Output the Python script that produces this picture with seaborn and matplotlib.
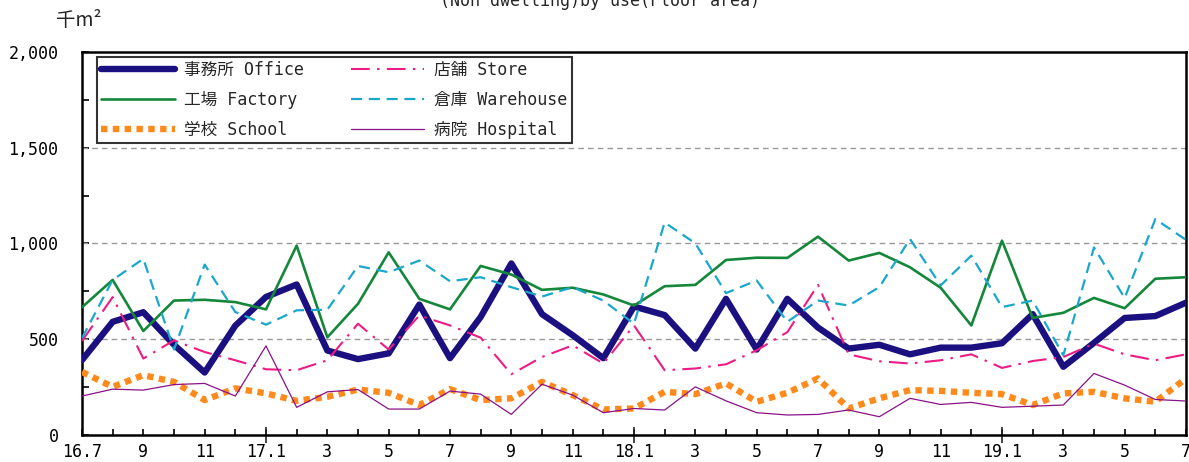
import matplotlib
matplotlib.use("Agg")
import matplotlib.pyplot as plt
import seaborn as sns
import numpy as np
import pandas as pd
from matplotlib.ticker import FixedLocator, NullFormatter

months = ["16.7", "8", "9", "10", "11", "12", "17.1", "2", "3", "4", "5", "6",
          "7", "8", "9", "10", "11", "12", "18.1", "2", "3", "4", "5", "6",
          "7", "8", "9", "10", "11", "12", "19.1", "2", "3", "4", "5", "6", "7"]

office = [390, 590, 640, 470, 325, 570, 720, 785, 440, 395, 425, 680,
          400, 615, 895, 630, 520, 400, 670, 625, 450, 710, 445, 710,
          560, 450, 470, 420, 455, 455, 478, 630, 355, 480, 610, 620, 690]
factory = [666, 809, 542, 701, 705, 693, 655, 988, 509, 684, 953, 710,
           655, 882, 837, 757, 768, 733, 675, 776, 783, 913, 925, 924,
           1035, 910, 950, 875, 768, 571, 1014, 610, 637, 715, 661, 815, 823]
school = [328, 250, 311, 276, 181, 242, 216, 177, 198, 236, 219, 155,
          238, 181, 190, 276, 207, 132, 137, 224, 212, 268, 172, 219,
          294, 137, 190, 233, 229, 219, 212, 155, 216, 224, 190, 172, 294]
store = [490, 719, 398, 493, 432, 389, 342, 337, 389, 580, 445, 623,
         571, 507, 316, 406, 467, 372, 571, 337, 346, 368, 441, 536,
         783, 420, 384, 372, 389, 420, 349, 385, 406, 476, 420, 389, 420]
warehouse = [505, 809, 919, 445, 889, 641, 575, 650, 653, 882, 849, 910,
             802, 823, 771, 722, 771, 701, 580, 1109, 1000, 740, 806, 590,
             701, 675, 771, 1023, 780, 936, 667, 701, 415, 979, 714, 1127, 1018]
hospital = [202, 238, 233, 262, 268, 202, 464, 143, 224, 236, 134, 134,
            228, 212, 106, 264, 207, 115, 137, 129, 250, 177, 115, 103,
            106, 129, 94, 190, 158, 169, 143, 149, 155, 320, 259, 184, 176]

series_names = ["事務所 Office", "工場 Factory", "学校 School",
                "店舗 Store", "倉庫 Warehouse", "病院 Hospital"]
y_ticks = [0, 500, 1000, 1500, 2000]
y_tick_labels = ["0", "500", "1,000", "1,500", "2,000"]

sns.set_theme(style="white")
plt.rcParams["font.family"] = ["DejaVu Sans Mono", "Noto Sans CJK JP"]

fig = plt.figure(figsize=(11.89, 4.62), dpi=100)
ax = fig.add_axes([82 / 1189, 1 - 434.7 / 462, (1186 - 82) / 1189, (434.7 - 52) / 462])

x = np.arange(len(months))
df = pd.DataFrame({"x": x, "office": office, "factory": factory, "school": school,
                   "store": store, "warehouse": warehouse, "hospital": hospital})

styles = [
    ("office", "#1B1080", 4.6, "-"),
    ("factory", "#14873A", 1.9, "-"),
    ("school", "#FF8A1C", 4.6, (0, (1, 0.85))),
    ("store", "#EC1C84", 1.5, (0, (9, 3.5, 1.2, 3.5))),
    ("warehouse", "#1AA7CC", 1.6, (0, (5, 3))),
    ("hospital", "#8A1288", 0.9, "-"),
]
lines = {}
for i, (col, color, lw, ls) in enumerate(styles):
    sns.lineplot(data=df, x="x", y=col, ax=ax, color=color, linewidth=lw, zorder=3 + i)
    ln = ax.lines[-1]
    ln.set_linestyle(ls)
    if col == "school":
        ln.set_dash_capstyle("butt")
    lines[col] = ln

ax.set_xlim(0, 36)
ax.set_ylim(0, 2000)
ax.set_xlabel("")
ax.set_ylabel("")

# grid
for yv in [500, 1000, 1500]:
    ax.axhline(yv, color="#999999", lw=1.0, ls=(0, (4, 3)), zorder=1)

# y ticks
ax.yaxis.set_major_locator(FixedLocator(y_ticks))
ax.set_yticklabels(y_tick_labels)
ax.yaxis.set_minor_locator(FixedLocator([250, 750, 1250, 1750]))
ax.tick_params(axis="y", which="both", direction="in", length=5, width=1.2,
               left=True, right=False, pad=17, labelsize=12, colors="black")

# x ticks
ax.xaxis.remove_overlapping_locs = False
ax.xaxis.set_major_locator(FixedLocator(list(x)))
ax.set_xticklabels([m if i % 2 == 0 else "" for i, m in enumerate(months)])
ax.xaxis.set_minor_locator(FixedLocator([6, 18, 30]))
ax.xaxis.set_minor_formatter(NullFormatter())
ax.tick_params(axis="x", which="major", direction="in", length=4, width=1.2,
               bottom=True, top=False, pad=6, labelsize=12, colors="black")
ax.tick_params(axis="x", which="minor", direction="inout", length=12, width=1.2,
               bottom=True, top=False)

for sp in ax.spines.values():
    sp.set_visible(True)
    sp.set_color("black")
    sp.set_linewidth(1.8)

order = ["office", "factory", "school", "store", "warehouse", "hospital"]
leg = ax.legend([lines[k] for k in order], series_names, ncol=2,
                loc="upper left", bbox_to_anchor=(15 / 1104, 1 - 5 / 382.7),
                fontsize=12, handlelength=4.4, handletextpad=0.6,
                columnspacing=2.8, labelspacing=0.7, borderpad=0.25,
                frameon=True, fancybox=False, borderaxespad=0)
leg.get_frame().set_edgecolor("black")
leg.get_frame().set_linewidth(1.5)
leg.set_zorder(20)

fig.text(56 / 1189, 1 - 21 / 462, "千m²", fontsize=14, va="center", ha="left",
         family=["Noto Sans CJK JP", "DejaVu Sans"])
fig.text(600 / 1189, 1 - 1 / 462, "(Non dwelling)by use(Floor area)", fontsize=12,
         ha="center", va="center")

fig.savefig("out.png", dpi=100)
